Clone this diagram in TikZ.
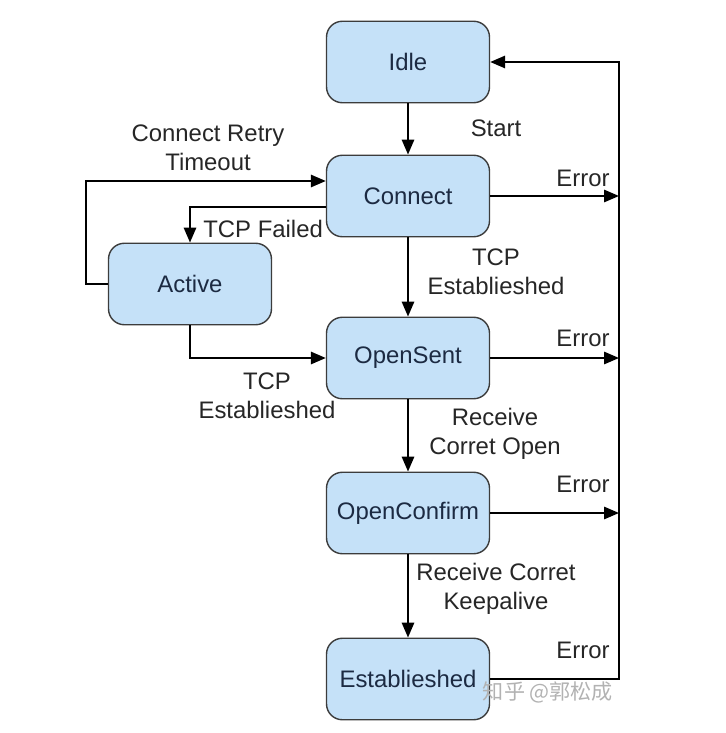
\documentclass[tikz,border=0pt]{standalone}
\usepackage{fontspec}
\setmainfont{Liberation Sans}
\newfontfamily\cjk{Noto Sans CJK SC}
\usetikzlibrary{arrows.meta}
\definecolor{boxfill}{RGB}{197,225,248}
\definecolor{boxtext}{RGB}{28,42,66}
\definecolor{boxline}{RGB}{60,60,60}

\begin{document}
\begin{tikzpicture}[x=0.02cm,y=-0.02cm,
    state/.style={draw=boxline,line width=0.8pt,fill=boxfill,rounded corners=9pt,
      minimum width=3.26cm,minimum height=1.63cm,text=boxtext,font=\fontsize{13.6}{15.4}\selectfont},
    lbl/.style={text=black!85,align=center,inner sep=0pt,font=\fontsize{13.6}{16.2}\selectfont},
    flow/.style={line width=1.1pt,-{Triangle[length=8.5pt,width=7pt]}}]
  \useasboundingbox (0,0) rectangle (725,733);
  % states
  \node[state] (idle) at (408,62) {Idle};
  \node[state] (connect) at (408,196) {Connect};
  \node[state] (active) at (190,284) {Active};
  \node[state] (opensent) at (408,358) {OpenSent};
  \node[state] (openconfirm) at (408,513) {OpenConfirm};
  \node[state] (established) at (408,679) {Establieshed};
  \coordinate (retry) at (86,181);
  \coordinate (fail) at (190,207);
  \coordinate (back) at (619,62);
  % transitions
  \draw[flow] (idle) -- (connect);
  \draw[flow] (connect) -- (opensent);
  \draw[flow] (opensent) -- (openconfirm);
  \draw[flow] (openconfirm) -- (established);
  \draw[flow] (active.west) -| (retry) -- (retry -| connect.west);
  \draw[flow] (fail -| connect.west) -- (fail) -- (active.north);
  \draw[flow] (active.south) |- (opensent.west);
  \draw[flow] (connect.east) -- (connect.east -| back);
  \draw[flow] (opensent.east) -- (opensent.east -| back);
  \draw[flow] (openconfirm.east) -- (openconfirm.east -| back);
  \draw[flow] (established.east) -| (back) -- (idle.east);
  % labels
  \node[lbl] (startlbl) at (496,128) {Start};
  \node[lbl] (retrylbl) at (208,148) {Connect Retry\\Timeout};
  \node[lbl,anchor=west] (faillbl) at (203,229) {TCP Failed};
  \node[lbl] (tcplbl) at (496,272) {TCP\\Establieshed};
  \node[lbl] (tcplbl2) at (267,396) {TCP\\Establieshed};
  \node[lbl] (openlbl) at (495,434) {Receive\\Corret Open};
  \node[lbl] (kalbl) at (496,589) {Receive Corret\\Keepalive};
  \foreach \y/\n in {178/a,338/b,484/c,650/d}
    \node[lbl] (err\n) at (583,\y) {Error};
  \node[lbl,text=black!30] (mark) at (548,692) {\cjk\fontsize{12}{14}\selectfont 知乎 @郭松成};
\end{tikzpicture}
\end{document}
